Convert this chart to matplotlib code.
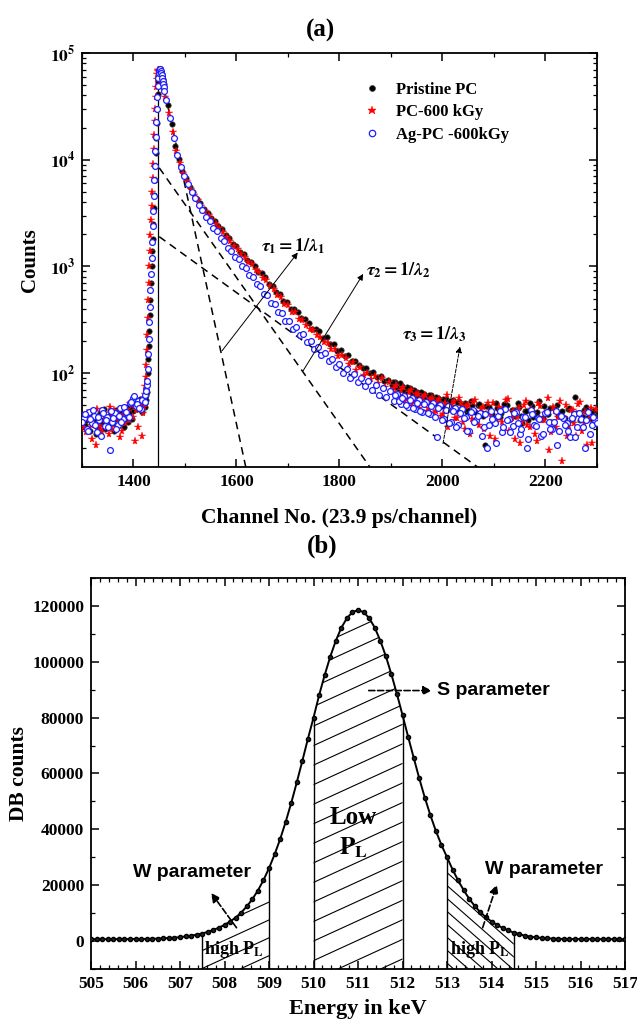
import numpy as np
import matplotlib
matplotlib.use('Agg')
import matplotlib.pyplot as plt
from matplotlib.ticker import MultipleLocator, LogLocator, FuncFormatter, NullFormatter
from matplotlib.patches import Polygon

plt.rcParams['font.family'] = ['Liberation Serif', 'DejaVu Serif']
plt.rcParams['font.weight'] = 'bold'
plt.rcParams['axes.labelweight'] = 'bold'
plt.rcParams['mathtext.fontset'] = 'stix'

# ---------------- (a) lifetime spectra ----------------
# counts per series: background before the peak (every 5 ch, two interleaved runs),
# rising edge and peak (every channel), decay tail (every 7 ch, extra run in the far tail)
black_pre = [33, 38, 29, 41, 35, 31, 42, 36, 30, 39, 44, 34, 37, 32, 43, 38, 41, 35, 47, 44, 52, 48, 45, 55]
black_pre2 = [36, 30, 44, 39, 27, 40, 34, 46, 38, 33, 41, 29, 45, 36, 39, 31, 48, 42, 37, 50, 46, 57, 43, 52]
black_peak = [50, 58, 48, 62, 56, 66, 80, 100, 135,
              180, 250, 350, 480, 700, 1000, 1400, 1800, 2500, 3500,
              4700, 6500, 8800, 11500, 16000, 22000, 30000, 41000, 54000, 64000,
              69000, 70500, 70000, 68000, 65500, 63000, 60000, 57000, 54000, 51000]
black_tail = [48500, 32800, 21700, 13300, 10150, 7850, 6700, 5560, 4950, 4310,
              3940, 3420, 3200, 2830, 2670, 2380, 2230, 1960, 1850, 1640,
              1540, 1370, 1300, 1150, 1100, 1010, 890, 860, 790, 690,
              660, 575, 552, 478, 462, 402, 395, 371, 328, 322,
              298, 262, 261, 246, 214, 216, 187, 189, 161, 166,
              146, 147, 129, 131, 118, 112, 111, 100, 103, 92,
              95, 84, 87, 77, 83, 71, 76, 68, 72, 63,
              67, 58, 64, 55, 62, 52, 59, 49, 57, 51,
              56, 45, 52, 47, 43, 55, 44, 50, 42, 21,
              48, 41, 53, 39, 46, 50, 37, 45, 52, 40,
              44, 36, 49, 42, 55, 38, 41, 47, 35, 50,
              43, 38, 46, 36, 60, 42, 39, 48, 37, 44]
black_tail2 = [83, 74, 80, 70, 74, 66, 70, 61, 66, 58,
               63, 55, 60, 53, 57, 50, 55, 48, 54, 46,
               52, 45, 50, 43, 51, 40, 49, 44, 38, 47,
               42, 51, 36, 45, 40, 48, 34, 44, 52, 39,
               43, 37, 49, 41, 35, 46, 40, 44, 33, 47,
               39, 42, 36, 45, 38, 43, 40]

red_pre = [35, 28, 40, 33, 44, 21, 36, 30, 42, 34, 27, 39, 45, 31, 37, 29, 41, 46, 36, 50, 23, 47, 53, 26]
red_pre2 = [31, 42, 37, 24, 39, 46, 33, 28, 40, 35, 48, 30, 38, 43, 25, 40, 34, 44, 52, 39, 45, 31, 49, 42]
red_peak = [58, 48, 64, 75, 92, 120, 165, 230, 330, 480,
            700, 1000, 1400, 1950, 2700, 3700, 5000, 6800, 9200, 12500,
            17000, 23000, 30000, 39000, 48000, 57000, 64000, 68500, 70000, 69000,
            67000, 64500, 62000, 59500, 57000, 54500, 52000, 49000, 46000]
red_tail = [38500, 27500, 18200, 12000, 9400, 7500, 6300, 5350, 4700, 4150,
            3720, 3300, 3030, 2740, 2520, 2270, 2100, 1900, 1740, 1570,
            1460, 1300, 1235, 1095, 1045, 925, 880, 780, 745, 650,
            620, 541, 520, 448, 433, 372, 371, 322, 318, 281,
            262, 251, 226, 219, 195, 190, 170, 168, 146, 149,
            139, 122, 126, 108, 113, 97, 101, 88, 95, 81,
            90, 74, 83, 67, 78, 63, 74, 58, 69, 55,
            64, 52, 62, 47, 59, 44, 57, 41, 62, 45,
            55, 38, 52, 30, 50, 37, 56, 33, 48, 41,
            26, 52, 36, 45, 29, 57, 38, 24, 47, 35,
            55, 31, 42, 23, 49, 36, 58, 28, 44, 39,
            15, 50, 32, 45, 26, 54, 34, 21, 47, 38]
red_tail2 = [73, 61, 69, 55, 66, 51, 64, 47, 60, 44,
             57, 42, 55, 40, 53, 31, 51, 38, 58, 35,
             49, 27, 54, 37, 46, 30, 52, 41, 24, 48,
             35, 56, 29, 44, 39, 22, 50, 33, 46, 27,
             53, 36, 42, 19, 48, 31, 55, 38, 26, 45,
             34, 51, 29, 43, 37, 22, 46]

blue_pre = [38, 30, 43, 34, 40, 28, 36, 45, 32, 39, 19, 35, 42, 33, 47, 37, 44, 40, 52, 58, 49, 55, 46, 57]
blue_pre2 = [35, 41, 29, 37, 45, 33, 39, 26, 42, 36, 31, 44, 38, 30, 40, 35, 48, 43, 39, 54, 61, 51, 47, 56]
blue_peak = [62, 54, 70, 68, 78, 85, 110, 150,
             210, 300, 420, 600, 850, 1200, 1700, 2400, 3300, 4600,
             6400, 8800, 12000, 16500, 22500, 30000, 39000, 49000, 58000, 65000,
             69500, 71000, 70500, 68500, 65500, 62000, 58500, 55000, 51500, 48000, 44500]
blue_tail = [36000, 24500, 16000, 11000, 8600, 7000, 5950, 5000, 4420, 3800,
             3410, 2890, 2670, 2300, 2140, 1850, 1740, 1490, 1410, 1220,
             1170, 1000, 965, 830, 795, 680, 655, 555, 540, 452,
             445, 372, 368, 310, 309, 262, 268, 226, 231, 196,
             200, 169, 175, 148, 154, 129, 137, 113, 121, 101,
             109, 90, 99, 82, 91, 75, 84, 69, 78, 63,
             72, 60, 68, 55, 64, 51, 61, 48, 58, 46,
             56, 43, 54, 41, 52, 25, 50, 37, 49, 35,
             47, 33, 46, 39, 29, 45, 36, 42, 31, 20,
             44, 34, 40, 28, 46, 37, 32, 43, 27, 39,
             20, 45, 33, 38, 26, 42, 35, 30, 44, 29,
             38, 34, 25, 41, 31, 37, 20, 43, 33, 36]
blue_tail2 = [62, 55, 59, 50, 56, 47, 53, 44, 51, 42,
              49, 39, 47, 36, 45, 34, 44, 31, 42, 38,
              29, 43, 35, 40, 26, 41, 33, 37, 22, 44,
              31, 36, 28, 42, 34, 30, 39, 24, 41, 32,
              37, 27, 43, 30, 35, 21, 40, 33, 29, 38,
              25, 42, 31, 36, 27, 39, 34]

# (first channel, channel step) for each block above
black_blocks = [(1305, 5, black_pre), (1307, 5, black_pre2), (1421, 1, black_peak),
                (1460, 7, black_tail), (1903, 7, black_tail2)]
red_blocks = [(1302, 5, red_pre), (1304, 5, red_pre2), (1420, 1, red_peak),
              (1462, 7, red_tail), (1906, 7, red_tail2)]
blue_blocks = [(1304, 5, blue_pre), (1301, 5, blue_pre2), (1422, 1, blue_peak),
               (1464, 7, blue_tail), (1908, 7, blue_tail2)]

series_labels = ['Pristine PC', 'PC-600 kGy', 'Ag-PC -600kGy']

# fitted exponential components: (channel, counts) at both ends
comp_ch = [(1450, 1618), (1450, 1859), (1450, 2068)]
comp_counts = [(75000, 13.2), (8400, 13.2), (1900, 13.2)]
t0_channel = 1448

tau_texts = [r'$\tau_1 = 1/\lambda_1$', r'$\tau_2 = 1/\lambda_2$', r'$\tau_3 = 1/\lambda_3$']
tau_text_xy = [(1648, 10**3.19), (1851, 10**2.96), (1921, 10**2.36)]
tau_arrow_tail = [(1572, 10**2.21), (1729, 10**2.02), (2001, 10**1.34)]
tau_arrow_head = [(1719, 10**3.13), (1846, 10**2.93), (2034, 10**2.25)]

# ---------------- (b) Doppler broadening ----------------
db_energy = np.arange(505.0, 517.001, 0.125)
db_counts = [660, 670, 670, 680, 680, 690, 690, 700, 720, 740, 770, 820, 890, 980, 1090, 1230,
             1400, 1650, 1900, 2300, 2700, 3300, 4000, 4800, 5800, 7000, 8400, 10200, 12400,
             15000, 18100, 21800, 26100, 31000, 36500, 42700, 49500, 56900, 64600, 72500, 80000,
             88000, 95200, 101800, 107500, 112200, 115600, 117770,
             118500,
             117770, 115650, 112250, 107600, 102000, 95500, 88400, 80900, 73200, 65700, 58300,
             51400, 45100, 39400, 34400, 30000, 25600, 21700, 18200, 15100, 12500, 10300, 8500,
             7000, 5750, 4700, 3800, 3000, 2430, 1930, 1570, 1300, 1120, 990, 890, 800, 760, 730,
             710, 700, 690, 690, 680, 680, 670, 670, 660, 660]

s_window = (510.0, 512.0)
w_windows = [(507.5, 509.0), (513.0, 514.5)]


def block_arrays(blocks):
    ch = np.concatenate([np.arange(s, s + st * len(v), st) for s, st, v in blocks])
    val = np.concatenate([np.asarray(v, float) for s, st, v in blocks])
    return ch, val


fig = plt.figure(figsize=(6.37, 10.23), dpi=100)
ax1 = fig.add_axes([0.1287, 0.5435, 0.8085, 0.4047])
ax2 = fig.add_axes([0.1429, 0.0528, 0.8383, 0.3822])

# ---- panel (a)
ax1.set_yscale('log')
ax1.set_xlim(1300, 2300)
ax1.set_ylim(13.2, 1e5)

for (c0, c1), (n0, n1) in zip(comp_ch, comp_counts):
    ax1.plot([c0, c1], [n0, n1], ls=(0, (5, 3.5)), color='k', lw=1.1, zorder=1)
ax1.vlines(t0_channel, 13.2, 7e4, color='k', lw=0.9, zorder=1)

styles = [dict(marker='o', ms=3.9, mfc='k', mec='#444444', mew=0.5),
          dict(marker='*', ms=5.8, mfc='red', mec='red', mew=0.3),
          dict(marker='o', ms=4.2, mfc='white', mec='#1f1fff', mew=0.9)]
for blocks, sty, lab in zip([black_blocks, red_blocks, blue_blocks], styles, series_labels):
    ch, val = block_arrays(blocks)
    ax1.plot(ch, val, ls='none', label=lab, zorder=3, **sty)

ax1.legend(loc='upper left', bbox_to_anchor=(0.515, 0.967), frameon=False,
           fontsize=12, handletextpad=0.8, labelspacing=0.4, handlelength=1.2,
           markerscale=1.1)

for txt, xy, tail, head in zip(tau_texts, tau_text_xy, tau_arrow_tail, tau_arrow_head):
    ls = '--' if txt.startswith(r'$\tau_3') else '-'
    ax1.annotate('', xy=head, xytext=tail,
                 arrowprops=dict(arrowstyle='-|>', lw=0.7, ls=ls, color='k',
                                 mutation_scale=9, shrinkA=0, shrinkB=0), zorder=4)
    ax1.text(xy[0], xy[1], txt, fontsize=13, fontweight='normal', va='center', ha='left', zorder=4)

ax1.xaxis.set_major_locator(MultipleLocator(200))
ax1.xaxis.set_minor_locator(MultipleLocator(100))
ax1.yaxis.set_major_locator(LogLocator(base=10))
ax1.yaxis.set_minor_locator(LogLocator(base=10, subs=np.arange(2, 10)))
ax1.yaxis.set_minor_formatter(NullFormatter())
ax1.yaxis.set_major_formatter(FuncFormatter(lambda v, p: r'$\mathbf{10^{%d}}$' % round(np.log10(v))))
ax1.set_ylabel('Counts', fontsize=15)
ax1.set_xlabel('Channel No. (23.9 ps/channel)', fontsize=15.5)
ax1.yaxis.set_label_coords(-0.081, 0.5)
ax1.xaxis.set_label_coords(0.5, -0.098)

# ---- panel (b)
ax2.set_xlim(505, 517)
ax2.set_ylim(-10000, 130000)
ybot = -10000
ax2.plot(db_energy, db_counts, '-o', color='k', lw=1.4, ms=3, mfc='#222222', mec='k', zorder=3)


def hatch_window(ax, x0, x1, slope, step, phase, cap_left=False):
    """Hatch the area under the curve between x0 and x1 with lines y = c + slope*(x - x0)."""
    inside = (db_energy > x0) & (db_energy < x1)
    xs = np.r_[x0, db_energy[inside], x1]
    ys = np.interp(xs, db_energy, db_counts)
    poly = Polygon(np.column_stack([np.r_[x0, xs, x1], np.r_[ybot, ys, ybot]]),
                   closed=True, fill=False, lw=0)
    ax.add_patch(poly)
    span = abs(slope) * (x1 - x0)
    top = ys[0] + 0.2 * step if cap_left else ys.max() + span
    n0 = int(np.floor((ybot - span - phase) / step))
    n1 = int(np.ceil((top - phase) / step))
    for n in range(n0, n1 + 1):
        c = phase + n * step
        if c > top:
            continue
        ln, = ax.plot([x0, x1], [c, c + slope * (x1 - x0)], color='k', lw=0.8, zorder=2)
        ln.set_clip_path(poly)


hatch_window(ax2, s_window[0], s_window[1], 7300, 7000, 77000)
hatch_window(ax2, w_windows[0][0], w_windows[0][1], 7300, 6400, 3000, cap_left=True)
hatch_window(ax2, w_windows[1][0], w_windows[1][1], -13960, 4630, 24500)

edges = [w_windows[0][0], w_windows[0][1], s_window[0], s_window[1], w_windows[1][0], w_windows[1][1]]
ax2.vlines(edges, ybot, np.interp(edges, db_energy, db_counts), color='k', lw=1.0, zorder=2)

arrow_kw = dict(arrowstyle='-|>', ls='--', lw=1.2, color='k', mutation_scale=13, shrinkA=0, shrinkB=0)
ax2.annotate('', xy=(512.66, 89700), xytext=(511.24, 89700), arrowprops=arrow_kw)
ax2.text(512.78, 89700, 'S parameter', family='Liberation Sans', weight='bold', fontsize=14, va='center')
ax2.annotate('', xy=(507.70, 17200), xytext=(508.27, 4770), arrowprops=arrow_kw)
ax2.annotate('', xy=(514.12, 20200), xytext=(513.80, 4770), arrowprops=arrow_kw)
ax2.text(505.94, 24600, 'W parameter', family='Liberation Sans', weight='bold', fontsize=14, va='center')
ax2.text(513.85, 25600, 'W parameter', family='Liberation Sans', weight='bold', fontsize=14, va='center')
ax2.text(510.9, 44100, 'Low', fontsize=18, ha='center', va='center')
ax2.text(510.9, 33400, r'$\mathbf{P}_{\mathbf{L}}$', fontsize=18, ha='center', va='center')
ax2.text(508.22, -2900, r'high P$_{\mathbf{L}}$', fontsize=13, ha='center', va='center')
ax2.text(513.75, -2900, r'high P$_{\mathbf{L}}$', fontsize=13, ha='center', va='center')

ax2.xaxis.set_major_locator(MultipleLocator(1))
ax2.xaxis.set_minor_locator(MultipleLocator(0.2))
ax2.yaxis.set_major_locator(MultipleLocator(20000))
ax2.yaxis.set_minor_locator(MultipleLocator(10000))
ax2.set_ylabel('DB counts', fontsize=15.5)
ax2.set_xlabel('Energy in keV', fontsize=16)
ax2.yaxis.set_label_coords(-0.117, 0.5)
ax2.xaxis.set_label_coords(0.5, -0.076)

for ax in (ax1, ax2):
    ax.tick_params(which='both', direction='in', top=True, right=True, labelsize=12.5, pad=5)
    ax.tick_params(which='major', length=6, width=1.1)
    ax.tick_params(which='minor', length=3, width=0.9)
    for sp in ax.spines.values():
        sp.set_linewidth(1.3)

fig.text(0.503, 1 - 30 / 1023, '(a)', ha='center', va='center', fontsize=18)
fig.text(0.506, 1 - 546 / 1023, '(b)', ha='center', va='center', fontsize=18)

fig.savefig('out.png', dpi=100)
